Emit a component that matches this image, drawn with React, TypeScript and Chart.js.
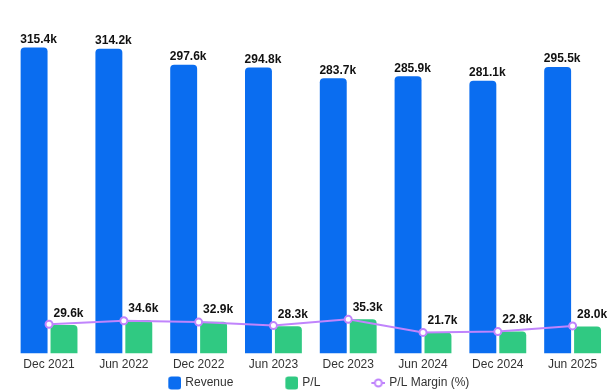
import React, { useEffect, useRef } from 'react';
import { Chart, registerables } from 'chart.js';

Chart.register(...registerables);

const categories = ['Dec 2021', 'Jun 2022', 'Dec 2022', 'Jun 2023', 'Dec 2023', 'Jun 2024', 'Dec 2024', 'Jun 2025'];
const revenue = [315.4, 314.2, 297.6, 294.8, 283.7, 285.9, 281.1, 295.5];
const profitLoss = [29.6, 34.6, 32.9, 28.3, 35.3, 21.7, 22.8, 28.0];
const plMargin = [10.8, 12.1, 11.6, 10.3, 12.6, 7.8, 8.1, 10.2];
const seriesNames = ['Revenue', 'P/L', 'P/L Margin (%)'];

const FONT = '"Liberation Sans", Arial, Helvetica, sans-serif';
const BLUE = '#0A6DF0';
const GREEN = '#30C982';
const PURPLE = '#C084FC';

const LEGEND_W = 62;
const LEGEND_PAD = 1;
const LEGEND_SHIFT = 19.5;

function makeMarker(kind: 'box' | 'line', color: string): HTMLCanvasElement {
  const c = document.createElement('canvas');
  const w = LEGEND_W + 4;
  const h = 16;
  c.width = w;
  c.height = h;
  const ctx = c.getContext('2d')!;
  if (kind === 'box') {
    const s = 13;
    ctx.fillStyle = color;
    ctx.beginPath();
    (ctx as any).roundRect(w - s, (h - s) / 2, s, s, 3);
    ctx.fill();
  } else {
    const cy = h / 2;
    ctx.strokeStyle = color;
    ctx.lineWidth = 2;
    ctx.beginPath();
    ctx.moveTo(w - 14, cy);
    ctx.lineTo(w, cy);
    ctx.stroke();
    ctx.beginPath();
    ctx.arc(w - 7, cy, 3.5, 0, Math.PI * 2);
    ctx.fillStyle = '#fff';
    ctx.fill();
    ctx.stroke();
  }
  return c;
}

const valueLabels = {
  id: 'valueLabels',
  afterDatasetsDraw(chart: any) {
    const ctx = chart.ctx;
    ctx.save();
    ctx.font = `bold 12px ${FONT}`;
    ctx.fillStyle = '#111';
    ctx.textAlign = 'center';
    ctx.textBaseline = 'alphabetic';
    [0, 1].forEach((di) => {
      const meta = chart.getDatasetMeta(di);
      const data = chart.data.datasets[di].data;
      const off = di === 0 ? 4.5 : 8.3;
      meta.data.forEach((el: any, i: number) => {
        ctx.fillText(Number(data[i]).toFixed(1) + 'k', el.x + 4.5, el.y - off);
      });
    });
    ctx.restore();
  },
};

const legendShift = {
  id: 'legendShift',
  afterLayout(chart: any) {
    const l = chart.legend;
    if (l) {
      l.left -= LEGEND_SHIFT;
      l.right -= LEGEND_SHIFT;
    }
  },
};

export default function App() {
  const ref = useRef<HTMLCanvasElement>(null);

  useEffect(() => {
    if (!ref.current) return;
    const markers = [makeMarker('box', BLUE), makeMarker('box', GREEN), makeMarker('line', PURPLE)];
    const chart = new Chart(ref.current, {
      type: 'bar',
      data: {
        labels: categories,
        datasets: [
          {
            type: 'bar',
            label: seriesNames[0],
            data: revenue,
            backgroundColor: BLUE,
            borderRadius: 4,
            yAxisID: 'y',
            order: 1,
          },
          {
            type: 'bar',
            label: seriesNames[1],
            data: profitLoss,
            backgroundColor: GREEN,
            borderRadius: 4,
            yAxisID: 'y',
            order: 1,
          },
          {
            type: 'line',
            label: seriesNames[2],
            data: plMargin,
            borderColor: PURPLE,
            borderWidth: 2,
            pointRadius: 3.5,
            pointBorderWidth: 2,
            pointBackgroundColor: '#fff',
            pointBorderColor: PURPLE,
            tension: 0,
            yAxisID: 'y1',
            order: 0,
          } as any,
        ],
      },
      options: {
        animation: false,
        responsive: true,
        maintainAspectRatio: false,
        layout: { padding: { left: 11.65, right: 2, top: 14, bottom: 0 } },
        scales: {
          x: {
            grid: { display: false, drawTicks: false },
            border: { display: false },
            ticks: { color: '#333', font: { size: 12, family: FONT }, padding: 4, maxRotation: 0, autoSkip: false },
          },
          y: { display: false, min: 0, max: 350 },
          y1: { display: false, min: 0, max: 125, position: 'right' },
        },
        plugins: {
          tooltip: { enabled: false },
          legend: {
            position: 'bottom',
            labels: {
              usePointStyle: true,
              pointStyleWidth: LEGEND_W,
              boxHeight: 12,
              padding: LEGEND_PAD,
              color: '#333',
              font: { size: 12, family: FONT },
              generateLabels: (c: any) => {
                const items = (Chart.defaults.plugins.legend.labels as any).generateLabels(c);
                items.sort((a: any, b: any) => a.datasetIndex - b.datasetIndex);
                items.forEach((it: any) => {
                  it.pointStyle = markers[it.datasetIndex];
                  it.lineWidth = 0;
                });
                return items;
              },
            },
          },
        },
      },
      plugins: [valueLabels, legendShift],
    });
    return () => chart.destroy();
  }, []);

  return (
    <div style={{ position: 'fixed', left: 0, top: 0, width: 616, height: 392, overflow: 'hidden', background: '#fff' }}>
      <div style={{ position: 'relative', width: 616, height: 399 }}>
        <canvas ref={ref} />
      </div>
    </div>
  );
}
